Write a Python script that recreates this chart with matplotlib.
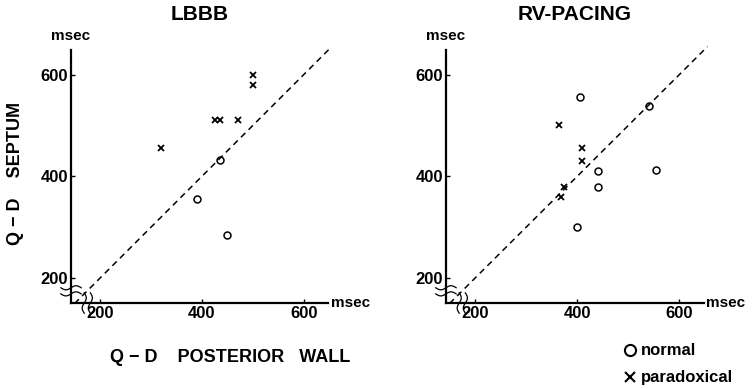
import numpy as np
import matplotlib
matplotlib.use("Agg")
import matplotlib.pyplot as plt

# LBBB panel
lbbb_normal_x = [435, 390, 450]
lbbb_normal_y = [433, 355, 285]
lbbb_parad_x = [500, 500, 425, 435, 470, 320]
lbbb_parad_y = [600, 580, 510, 510, 510, 455]

# RV-pacing panel
rv_normal_x = [405, 540, 440, 440, 555, 400]
rv_normal_y = [555, 538, 410, 380, 413, 300]
rv_parad_x = [365, 410, 410, 375, 368]
rv_parad_y = [500, 455, 430, 380, 360]

ticks = [200, 400, 600]
titles = ["LBBB", "RV-PACING"]

plt.rcParams['font.family'] = ['Liberation Sans', 'DejaVu Sans']
plt.rcParams['font.weight'] = 'bold'

fig = plt.figure(figsize=(7.52, 3.89), dpi=100)
ax1 = fig.add_axes([0.0944, 0.221, 0.342, 0.650])
ax2 = fig.add_axes([0.593, 0.221, 0.343, 0.650])

XMIN, XMAX = 143, 648
YMIN, YMAX = 151, 648


def wavy(ax, vertical, pos):
    t = np.linspace(-1, 1, 40)
    for off in (-6, 6):
        if vertical:
            # break on x-axis: short wavy line crossing the x-axis
            yy = YMIN + t * 20
            xx = pos + off + 4 * np.sin(t * np.pi)
        else:
            xx = XMIN + t * 20
            yy = pos + off + 4 * np.sin(t * np.pi)
        ax.plot(xx, yy, color='black', lw=0.9, clip_on=False)


for ax, title, nx, ny, px, py in [
        (ax1, titles[0], lbbb_normal_x, lbbb_normal_y, lbbb_parad_x, lbbb_parad_y),
        (ax2, titles[1], rv_normal_x, rv_normal_y, rv_parad_x, rv_parad_y)]:
    ax.set_xlim(XMIN, XMAX)
    ax.set_ylim(YMIN, YMAX)
    for s in ['top', 'right']:
        ax.spines[s].set_visible(False)
    for s in ['left', 'bottom']:
        ax.spines[s].set_linewidth(1.6)
    ax.set_xticks(ticks)
    ax.set_yticks(ticks)
    ax.tick_params(direction='in', length=3, width=1, labelsize=12, pad=2)
    for lab in ax.get_xticklabels() + ax.get_yticklabels():
        lab.set_fontweight('bold')

    ax.plot([150, 655], [150, 655], ls=(0, (4, 3)), color='black', lw=1.1, clip_on=False)
    ax.plot(nx, ny, 'o', mfc='none', mec='black', ms=5, mew=1.1)
    ax.plot(px, py, 'x', color='black', ms=4.5, mew=1.3)

    wavy(ax, False, 175)
    wavy(ax, True, 175)

    ax.text(0.5, 1.14, title, transform=ax.transAxes, ha='center', va='center',
            fontsize=15, fontweight='bold')
    ax.text(0, 1.03, 'msec', transform=ax.transAxes, ha='center', va='bottom',
            fontsize=11, fontweight='bold')
    ax.text(1.01, 0, 'msec', transform=ax.transAxes, ha='left', va='center',
            fontsize=11, fontweight='bold')

fig.text(0.02, 0.555, 'Q \u2212 D    SEPTUM', rotation=90, ha='center', va='center',
         fontsize=13, fontweight='bold')
fig.text(0.306, 0.08, 'Q \u2212 D    POSTERIOR   WALL', ha='center', va='center',
         fontsize=13, fontweight='bold')

# legend: symbols drawn as markers, labels as text
fig.lines.append(plt.Line2D([0.838], [0.10], marker='o', ms=8, mfc='none', mec='black',
                            mew=1.5, transform=fig.transFigure))
fig.lines.append(plt.Line2D([0.838], [0.032], marker='x', ms=7, color='black',
                            mew=1.5, transform=fig.transFigure))
fig.text(0.852, 0.10, 'normal', ha='left', va='center', fontsize=12, fontweight='bold')
fig.text(0.852, 0.03, 'paradoxical', ha='left', va='center', fontsize=12, fontweight='bold')

fig.savefig('out.png', dpi=100)
